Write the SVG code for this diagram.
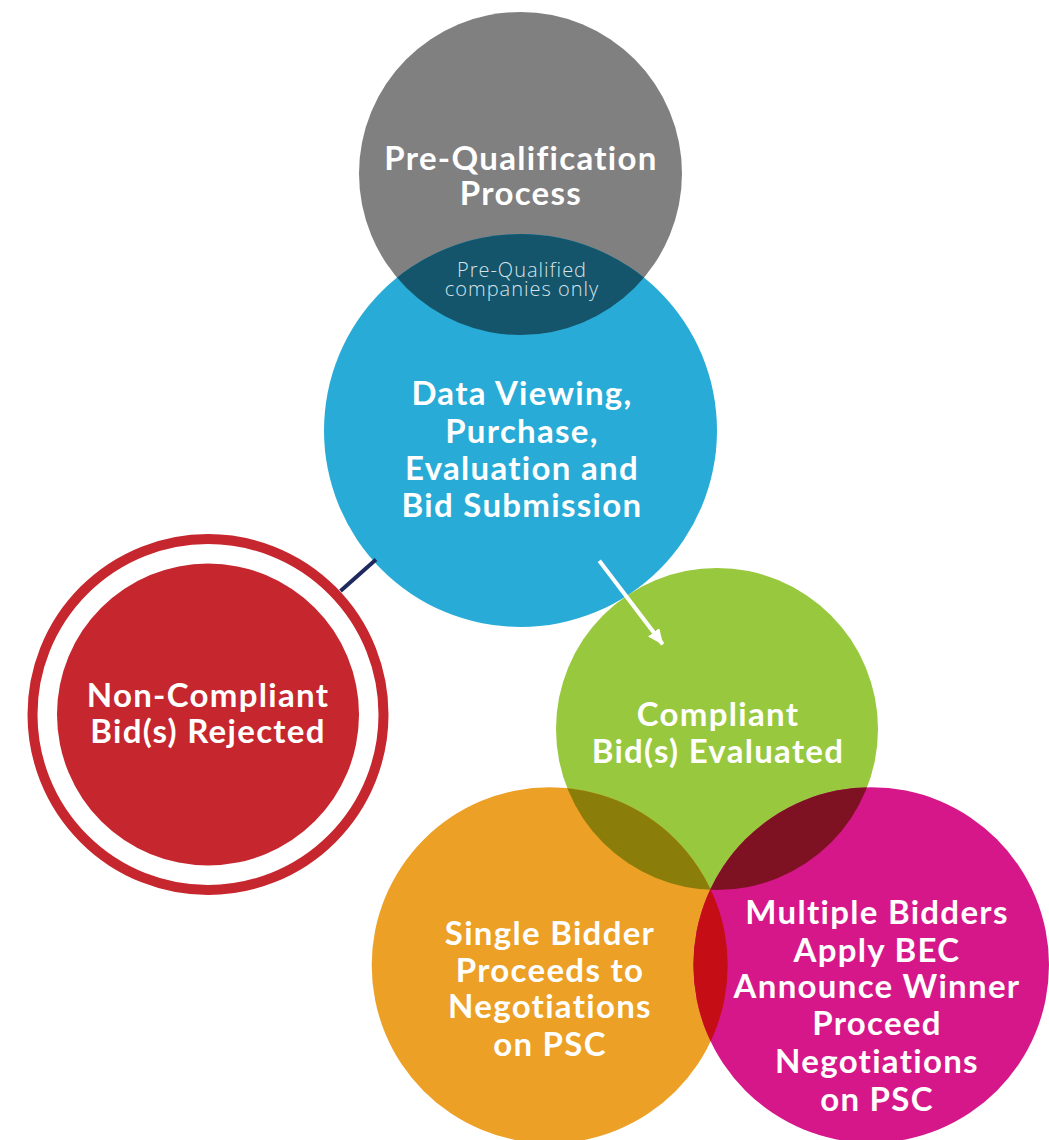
<svg xmlns="http://www.w3.org/2000/svg" width="1049" height="1140" viewBox="0 0 1049 1140">
<style>
.t{font-family:"Lato","Liberation Sans",sans-serif;font-weight:700;font-size:33px;fill:#ffffff;text-anchor:middle;letter-spacing:1.3px;font-variant-ligatures:none}
.s{font-family:"Open Sans","Liberation Sans",sans-serif;font-weight:300;font-size:20px;fill:#d5e3ea;text-anchor:middle;letter-spacing:1px}
</style>
<defs>
<clipPath id="cGray"><circle cx="520.5" cy="173.5" r="161.5"/></clipPath>
<clipPath id="cGreen"><circle cx="717" cy="729" r="161"/></clipPath>
<clipPath id="cOrange"><circle cx="549.7" cy="965.3" r="178"/></clipPath>
<marker id="ah" markerUnits="userSpaceOnUse" markerWidth="16" markerHeight="14" refX="15" refY="7" orient="auto">
<path d="M0,0 L16,7 L0,14 z" fill="#ffffff"/>
</marker>
</defs>
<rect width="1049" height="1140" fill="#ffffff"/>
<g id="node-prequal">
<circle cx="520.5" cy="173.5" r="161.5" fill="#808080"/>
<text class="t" x="521" y="170">Pre-Qualification</text>
<text class="t" x="521" y="205">Process</text>
</g>
<g id="node-data">
<circle cx="520.5" cy="430.5" r="196.5" fill="#28abd6"/>
<text class="t" x="522" y="405">Data Viewing,</text>
<text class="t" x="522" y="443">Purchase,</text>
<text class="t" x="522" y="480">Evaluation and</text>
<text class="t" x="522" y="517">Bid Submission</text>
</g>
<g id="overlap-prequalified">
<circle cx="520.5" cy="430.5" r="196.5" fill="#14556b" clip-path="url(#cGray)"/>
<text class="s" x="522" y="277">Pre-Qualified</text>
<text class="s" x="522" y="296">companies only</text>
</g>
<g id="node-rejected">
<circle cx="208" cy="714.5" r="175.5" fill="none" stroke="#c6262d" stroke-width="10"/>
<circle cx="208" cy="714.5" r="151" fill="#c6262d"/>
<text class="t" x="208" y="707">Non-Compliant</text>
<text class="t" x="208" y="743">Bid(s) Rejected</text>
</g>
<g id="node-compliant">
<circle cx="717" cy="729" r="161" fill="#98c83e"/>
<text class="t" x="718" y="726">Compliant</text>
<text class="t" x="718" y="763">Bid(s) Evaluated</text>
</g>
<g id="node-single">
<circle cx="549.7" cy="965.3" r="178" fill="#eca025"/>
<text class="t" x="550" y="945">Single Bidder</text>
<text class="t" x="550" y="982">Proceeds to</text>
<text class="t" x="550" y="1018">Negotiations</text>
<text class="t" x="550" y="1056">on PSC</text>
</g>
<g id="node-multiple">
<circle cx="871.2" cy="965" r="177.8" fill="#d6178a"/>
<g id="overlaps">
<circle cx="549.7" cy="965.3" r="178" fill="#8b7d09" clip-path="url(#cGreen)"/>
<circle cx="871.2" cy="965" r="177.8" fill="#7f1222" clip-path="url(#cGreen)"/>
<circle cx="871.2" cy="965" r="177.8" fill="#c40d15" clip-path="url(#cOrange)"/>
</g>
<text class="t" x="877" y="924">Multiple Bidders</text>
<text class="t" x="877" y="962">Apply BEC</text>
<text class="t" x="877" y="998">Announce Winner</text>
<text class="t" x="877" y="1035">Proceed</text>
<text class="t" x="877" y="1073">Negotiations</text>
<text class="t" x="877" y="1111">on PSC</text>
</g>
<g id="connectors">
<line x1="340.5" y1="591" x2="376" y2="559.5" stroke="#1e2a5e" stroke-width="4"/>
<line x1="599.3" y1="560.7" x2="662.7" y2="644.3" stroke="#ffffff" stroke-width="4" marker-end="url(#ah)"/>
</g>
</svg>
